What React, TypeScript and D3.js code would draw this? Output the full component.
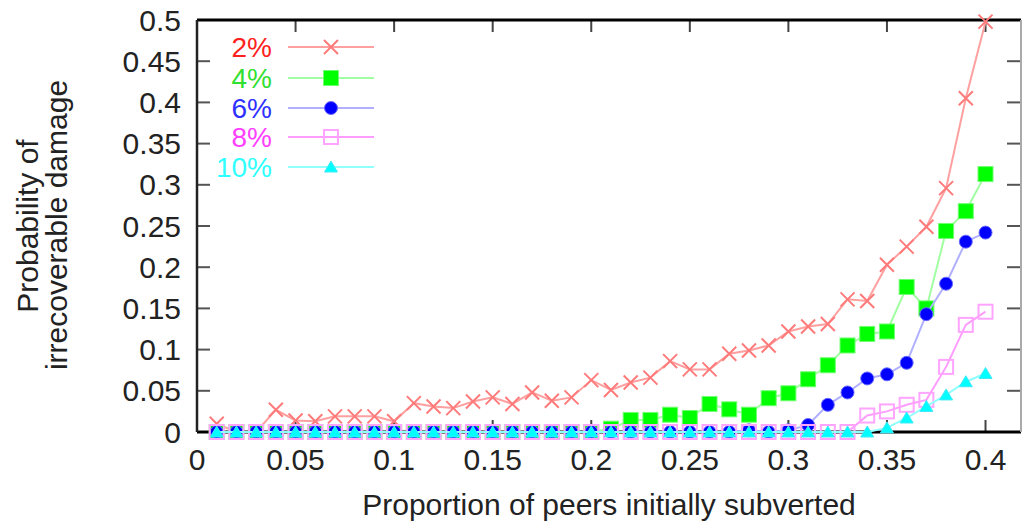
import React from "react";
import * as d3 from "d3";

const xValues = [
  0.01, 0.02, 0.03, 0.04, 0.05, 0.06, 0.07, 0.08, 0.09, 0.1,
  0.11, 0.12, 0.13, 0.14, 0.15, 0.16, 0.17, 0.18, 0.19, 0.2,
  0.21, 0.22, 0.23, 0.24, 0.25, 0.26, 0.27, 0.28, 0.29, 0.3,
  0.31, 0.32, 0.33, 0.34, 0.35, 0.36, 0.37, 0.38, 0.39, 0.4,
];

const series2 = [
  0.01, 0, 0, 0.027, 0.014, 0.013, 0.019, 0.019, 0.019, 0.013,
  0.035, 0.031, 0.029, 0.037, 0.042, 0.034, 0.048, 0.038, 0.042, 0.063,
  0.051, 0.06, 0.066, 0.086, 0.076, 0.076, 0.095, 0.099, 0.105, 0.122,
  0.128, 0.131, 0.161, 0.159, 0.203, 0.225, 0.249, 0.296, 0.405, 0.498,
];
const series4 = [
  0, 0, 0, 0, 0, 0, 0, 0, 0, 0,
  0, 0, 0, 0, 0, 0, 0, 0, 0, 0,
  0.004, 0.0146, 0.0146, 0.021, 0.017, 0.034, 0.0275, 0.021, 0.041, 0.047,
  0.064, 0.081, 0.105, 0.119, 0.122, 0.176, 0.15, 0.244, 0.268, 0.313,
];
const series6 = [
  0, 0, 0, 0, 0, 0, 0, 0, 0, 0,
  0, 0, 0, 0, 0, 0, 0, 0, 0, 0,
  0, 0, 0, 0, 0, 0, 0, 0.002, 0, 0.002,
  0.0085, 0.033, 0.048, 0.065, 0.07, 0.084, 0.143, 0.18, 0.231, 0.242,
];
const series8 = [
  0, 0, 0, 0, 0, 0, 0, 0, 0, 0,
  0, 0, 0, 0, 0, 0, 0, 0, 0, 0,
  0, 0, 0, 0, 0, 0, 0, 0, 0, 0,
  0, 0, 0, 0.02, 0.025, 0.033, 0.039, 0.079, 0.13, 0.146,
];
const series10 = [
  0, 0, 0, 0, 0, 0, 0, 0, 0, 0,
  0, 0, 0, 0, 0, 0, 0, 0, 0, 0,
  0, 0, 0, 0, 0, 0, 0, 0, 0, 0,
  0, 0, 0, 0, 0.005, 0.017, 0.031, 0.045, 0.061, 0.071,
];

const seriesLabels = ["2%", "4%", "6%", "8%", "10%"];
const seriesData = [series2, series4, series6, series8, series10];

const xTicks = [0, 0.05, 0.1, 0.15, 0.2, 0.25, 0.3, 0.35, 0.4];
const xTickLabels = ["0", "0.05", "0.1", "0.15", "0.2", "0.25", "0.3", "0.35", "0.4"];
const yTicks = [0, 0.05, 0.1, 0.15, 0.2, 0.25, 0.3, 0.35, 0.4, 0.45, 0.5];
const yTickLabels = ["0", "0.05", "0.1", "0.15", "0.2", "0.25", "0.3", "0.35", "0.4", "0.45", "0.5"];
const xDomain = [0, 0.418];
const yDomain = [0, 0.5];

const xTitle = "Proportion of peers initially subverted";
const yTitle1 = "Probability of";
const yTitle2 = "irrecoverable damage";

const W = 1023;
const H = 521;
const L = 197;
const R = 1021;
const T = 20;
const B = 432;
const FONT = "'Liberation Sans', Arial, Helvetica, sans-serif";

const styles = [
  { line: "#ffa0a0", text: "#ff2020", kind: "x" },
  { line: "#a0ffa0", text: "#30e030", kind: "square" },
  { line: "#b0b0ff", text: "#3030ff", kind: "circle" },
  { line: "#ff9cff", text: "#ff40ff", kind: "osquare" },
  { line: "#90ffff", text: "#30ffff", kind: "triangle" },
];

function Marker({ kind, cx, cy }: { kind: string; cx: number; cy: number }) {
  if (kind === "x") {
    const s = 7;
    return (
      <path
        d={`M${cx - s},${cy - s}L${cx + s},${cy + s}M${cx - s},${cy + s}L${cx + s},${cy - s}`}
        stroke="#ff7a7a"
        strokeWidth={2}
        fill="none"
      />
    );
  }
  if (kind === "square") {
    return <rect x={cx - 7.5} y={cy - 7.5} width={15} height={15} fill="#00ff00" stroke="#70ff70" strokeWidth={1} />;
  }
  if (kind === "circle") {
    return <circle cx={cx} cy={cy} r={6.5} fill="#0000ff" stroke="#6a6aff" strokeWidth={1} />;
  }
  if (kind === "osquare") {
    return <rect x={cx - 7} y={cy - 7} width={14} height={14} fill="none" stroke="#ffa4ff" strokeWidth={2} />;
  }
  const p = d3.path();
  p.moveTo(cx, cy - 6);
  p.lineTo(cx + 6.5, cy + 5);
  p.lineTo(cx - 6.5, cy + 5);
  p.closePath();
  return <path d={p.toString()} fill="#00ffff" stroke="#40e8f8" strokeWidth={1} />;
}

export default function App() {
  const x = d3.scaleLinear().domain(xDomain).range([L, R]);
  const y = d3.scaleLinear().domain(yDomain).range([B, T]);
  const lineGen = d3
    .line<number>()
    .x((_, i) => x(xValues[i]))
    .y((d) => y(d));

  const legendY = [47, 78, 108, 137, 167];

  return (
    <svg width={W} height={H} style={{ position: "absolute", left: 0, top: 0, background: "#fff" }}>
      <rect x={0} y={0} width={W} height={H} fill="#fff" />
      {xTicks.map((t) => (
        <g key={"xt" + t}>
          <line x1={x(t)} x2={x(t)} y1={B} y2={B - 12} stroke="#444" strokeWidth={2} />
          <line x1={x(t)} x2={x(t)} y1={T} y2={T + 12} stroke="#444" strokeWidth={2} />
        </g>
      ))}
      {yTicks.map((t) => (
        <g key={"yt" + t}>
          <line x1={L} x2={L + 13} y1={y(t)} y2={y(t)} stroke="#555" strokeWidth={2} />
          <line x1={R} x2={R - 14} y1={y(t)} y2={y(t)} stroke="#555" strokeWidth={2} />
        </g>
      ))}
      <line x1={L} x2={R} y1={T} y2={T} stroke="#000" strokeWidth={3} />
      <line x1={L} x2={R} y1={B} y2={B} stroke="#000" strokeWidth={3} />
      <line x1={L} x2={L} y1={T} y2={B} stroke="#222" strokeWidth={2.5} />
      <line x1={R} x2={R} y1={T} y2={B} stroke="#aaa" strokeWidth={2} />

      {xTicks.map((t, i) => (
        <text key={"xl" + t} x={x(t)} y={470} textAnchor="middle" fontFamily={FONT} fontSize={30} fill="#222">
          {xTickLabels[i]}
        </text>
      ))}
      {yTicks.map((t, i) => (
        <text key={"yl" + t} x={181} y={y(t)} dy="0.35em" textAnchor="end" fontFamily={FONT} fontSize={30} fill="#222">
          {yTickLabels[i]}
        </text>
      ))}

      <text x={(L + R) / 2} y={515} textAnchor="middle" fontFamily={FONT} fontSize={30} fill="#222">
        {xTitle}
      </text>
      <text transform={`translate(38,226) rotate(-90)`} textAnchor="middle" fontFamily={FONT} fontSize={30} fill="#222">
        {yTitle1}
      </text>
      <text transform={`translate(67,225) rotate(-90)`} textAnchor="middle" fontFamily={FONT} fontSize={30} fill="#222">
        {yTitle2}
      </text>

      {seriesData.map((data, si) => (
        <g key={"s" + si}>
          <path d={lineGen(data) || ""} fill="none" stroke={styles[si].line} strokeWidth={2} />
          {data.map((v, i) => (
            <Marker key={i} kind={styles[si].kind} cx={x(xValues[i])} cy={y(v)} />
          ))}
        </g>
      ))}

      {seriesLabels.map((lab, i) => (
        <g key={"lg" + i}>
          <text x={272} y={legendY[i]} dy="0.35em" textAnchor="end" fontFamily={FONT} fontSize={28} fill={styles[i].text}>
            {lab}
          </text>
          <line x1={288} x2={374} y1={legendY[i]} y2={legendY[i]} stroke={styles[i].line} strokeWidth={2} />
          <Marker kind={styles[i].kind} cx={331} cy={legendY[i]} />
        </g>
      ))}
    </svg>
  );
}
